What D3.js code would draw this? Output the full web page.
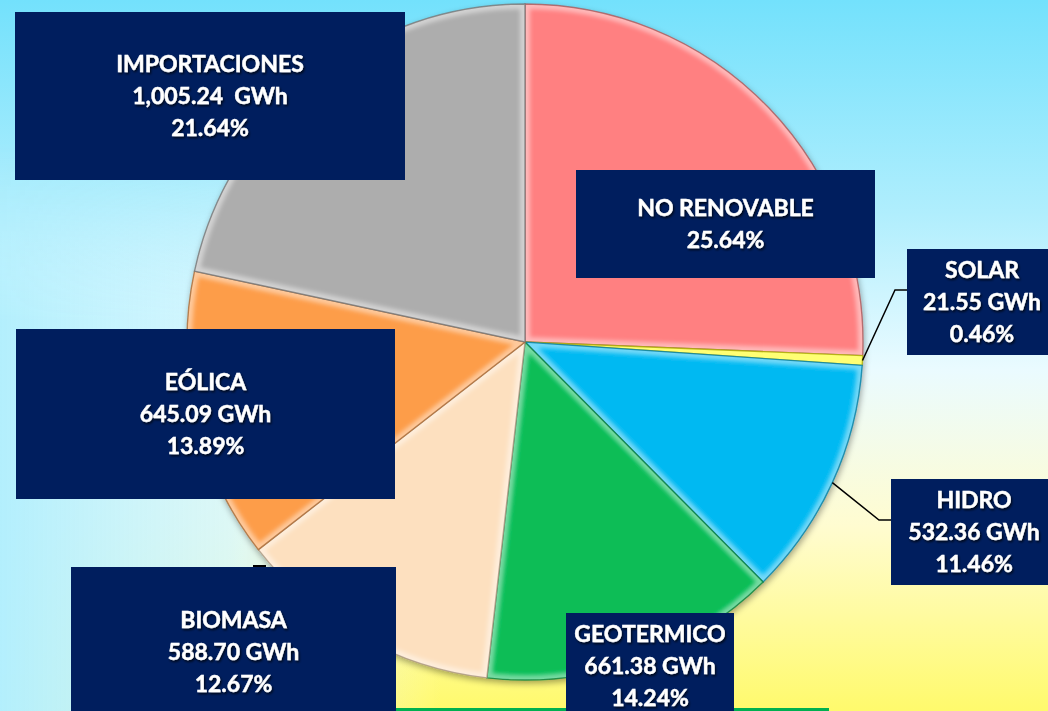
<!DOCTYPE html>
<html>
<head>
<meta charset="utf-8">
<script src="https://cdn.jsdelivr.net/npm/d3@7"></script>
<style>
  html, body { margin: 0; padding: 0; overflow: hidden; }
  svg { display: block; }
</style>
</head>
<body>
<svg id="chart" width="1048" height="711"></svg>
<script>
// Data
const categories = ['NO RENOVABLE', 'SOLAR', 'HIDRO', 'GEOTERMICO', 'BIOMASA', 'EÓLICA', 'IMPORTACIONES'];
const percents = [25.64, 0.46, 11.46, 14.24, 12.67, 13.89, 21.64];
const energyGWh = [null, 21.55, 532.36, 661.38, 588.70, 645.09, 1005.24];
const colors = ['#ff8081', '#ffff00', '#00b9f2', '#07bd56', '#fde0bf', '#fd9d4a', '#adadad'];

// Label box layout (box x, y, w, h) and leader line kinks
const boxes = {
  'NO RENOVABLE': { x: 576, y: 170, w: 299, h: 108 },
  'SOLAR':        { x: 907, y: 249, w: 150, h: 106, leader: [895, 290] },
  'HIDRO':        { x: 891, y: 479, w: 166, h: 106, leader: [879, 520] },
  'GEOTERMICO':   { x: 566, y: 613, w: 168, h: 106 },
  'BIOMASA':      { x: 71,  y: 567, w: 325, h: 170 },
  'EÓLICA':       { x: 16,  y: 329, w: 379, h: 170 },
  'IMPORTACIONES':{ x: 15,  y: 12,  w: 390, h: 168 }
};

const width = 1048, height = 711;
const cx = 525, cy = 342, radius = 338;
const lineGap = 32;

const svg = d3.select('#chart');
const defs = svg.append('defs');

// Background gradients
const bg = defs.append('linearGradient').attr('id', 'bgV')
  .attr('x1', 0).attr('y1', 0).attr('x2', 0).attr('y2', 1);
[['0%', '#73e1fc'], ['30%', '#b0eefd'], ['52%', '#eafbff'], ['74%', '#fffcd0'], ['100%', '#fffa6c']]
  .forEach(([o, c]) => bg.append('stop').attr('offset', o).attr('stop-color', c));

const bgH = defs.append('linearGradient').attr('id', 'bgH')
  .attr('x1', 0).attr('y1', 0).attr('x2', 1).attr('y2', 0);
bgH.append('stop').attr('offset', '0%').attr('stop-color', '#b3effd').attr('stop-opacity', 1);
bgH.append('stop').attr('offset', '22%').attr('stop-color', '#d4f6fe').attr('stop-opacity', 0.8);
bgH.append('stop').attr('offset', '42%').attr('stop-color', '#f4fdff').attr('stop-opacity', 0);

const maskGrad = defs.append('linearGradient').attr('id', 'maskGrad')
  .attr('x1', 0).attr('y1', 0).attr('x2', 0).attr('y2', 1);
maskGrad.append('stop').attr('offset', '20%').attr('stop-color', '#000');
maskGrad.append('stop').attr('offset', '45%').attr('stop-color', '#fff');
defs.append('mask').attr('id', 'leftMask')
  .append('rect').attr('width', width).attr('height', height).attr('fill', 'url(#maskGrad)');

svg.append('rect').attr('width', width).attr('height', height).attr('fill', 'url(#bgV)');
svg.append('rect').attr('width', width).attr('height', height)
  .attr('fill', 'url(#bgH)').attr('mask', 'url(#leftMask)');

// Filters
const shadow = defs.append('filter').attr('id', 'pieShadow')
  .attr('x', '-10%').attr('y', '-10%').attr('width', '120%').attr('height', '120%');
shadow.append('feDropShadow').attr('dx', 1).attr('dy', 3).attr('stdDeviation', 3)
  .attr('flood-color', '#000').attr('flood-opacity', 0.35);

const textShadow = defs.append('filter').attr('id', 'textShadow')
  .attr('x', '-10%').attr('y', '-30%').attr('width', '120%').attr('height', '160%');
textShadow.append('feDropShadow').attr('dx', 1.2).attr('dy', 1.8).attr('stdDeviation', 1.1)
  .attr('flood-color', '#000').attr('flood-opacity', 0.75);

const soft = defs.append('filter').attr('id', 'soft');
soft.append('feGaussianBlur').attr('stdDeviation', 2);

// Pie
const slices = d3.pie().sort(null).value(d => d)(percents);
const arc = d3.arc().innerRadius(0).outerRadius(radius);
const edgeArc = d3.arc().innerRadius(radius).outerRadius(radius);

const pieG = svg.append('g').attr('transform', `translate(${cx},${cy})`);
const sliceG = pieG.append('g').attr('filter', 'url(#pieShadow)');

slices.forEach((d, i) => {
  defs.append('clipPath').attr('id', `clip${i}`)
    .append('path').attr('d', arc(d));
});

const sliceSel = sliceG.selectAll('g.slice').data(slices).enter()
  .append('g').attr('class', 'slice');

sliceSel.append('path')
  .attr('d', arc)
  .attr('fill', (d, i) => colors[i]);

// bevel highlight inside each slice
sliceSel.append('path')
  .attr('d', arc)
  .attr('clip-path', (d, i) => `url(#clip${i})`)
  .attr('fill', 'none')
  .attr('stroke', '#ffffff')
  .attr('stroke-opacity', 0.45)
  .attr('stroke-width', 10)
  .attr('filter', 'url(#soft)');

sliceSel.append('path')
  .attr('d', arc)
  .attr('fill', 'none')
  .attr('stroke', (d, i) => d3.color(colors[i]).darker(1.2))
  .attr('stroke-opacity', 0.75)
  .attr('stroke-width', 1.4);

// Leader lines
const leaderG = svg.append('g');
slices.forEach((d, i) => {
  const b = boxes[categories[i]];
  if (!b.leader) return;
  const [ex, ey] = edgeArc.centroid(d);
  leaderG.append('path')
    .attr('d', d3.line()([[cx + ex, cy + ey], b.leader, [b.x, b.leader[1]]]))
    .attr('fill', 'none')
    .attr('stroke', '#000')
    .attr('stroke-width', 1.5);
});
// short stub above the BIOMASA box
leaderG.append('line')
  .attr('x1', boxes['BIOMASA'].x + 182).attr('x2', boxes['BIOMASA'].x + 195)
  .attr('y1', boxes['BIOMASA'].y - 1).attr('y2', boxes['BIOMASA'].y - 1)
  .attr('stroke', '#000').attr('stroke-width', 2);

// Green strip at the bottom
svg.append('rect')
  .attr('x', 338).attr('y', 708).attr('width', 491).attr('height', 4)
  .attr('fill', '#00b050');

// Label boxes
const fmt = d3.format(',.2f');
const labelG = svg.append('g');
categories.forEach((c, i) => {
  const b = boxes[c];
  const lines = [c];
  if (energyGWh[i] !== null) {
    lines.push(fmt(energyGWh[i]) + (c === 'IMPORTACIONES' ? '\u00a0\u00a0GWh' : ' GWh'));
  }
  lines.push(percents[i].toFixed(2) + '%');

  const g = labelG.append('g');
  g.append('rect')
    .attr('x', b.x).attr('y', b.y).attr('width', b.w).attr('height', b.h)
    .attr('fill', '#001e5e');

  const top = b.y + b.h / 2 - (lines.length - 1) * lineGap / 2 + 8;
  const t = g.append('text')
    .attr('text-anchor', 'middle')
    .attr('font-family', 'Lato, "Open Sans", sans-serif')
    .attr('font-weight', 700)
    .attr('font-size', 23)
    .attr('fill', '#ffffff')
    .attr('stroke', '#ffffff')
    .attr('stroke-width', 0.4)
    .attr('filter', 'url(#textShadow)');
  lines.forEach((ln, k) => {
    t.append('tspan')
      .attr('x', b.x + b.w / 2)
      .attr('y', top + k * lineGap)
      .text(ln);
  });
});
</script>
</body>
</html>
